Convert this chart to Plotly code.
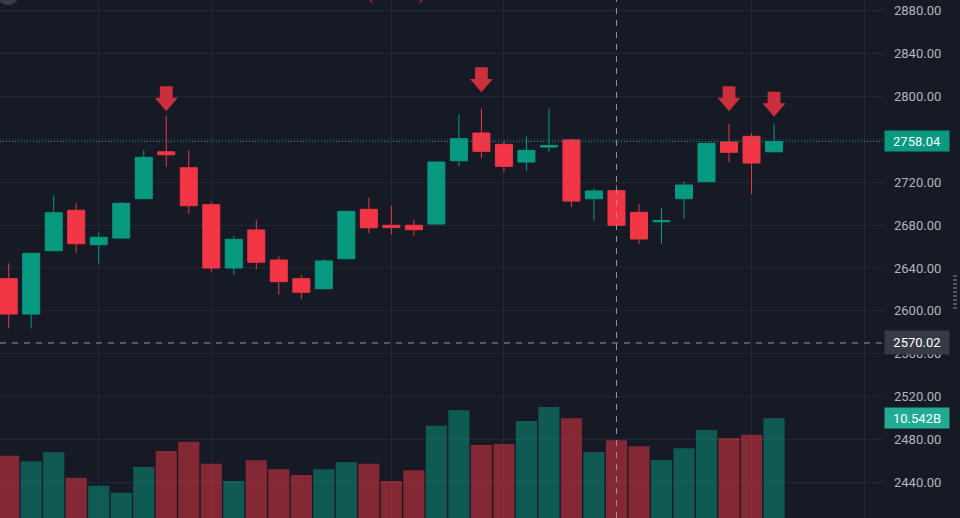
import plotly.graph_objects as go

# ---------------- data ----------------
opens = [2630.0, 2597.0, 2656.1, 2693.8, 2661.7, 2667.9, 2704.6, 2748.4, 2733.5, 2699.0,
         2639.9, 2675.4, 2647.4, 2630.0, 2620.6, 2648.6, 2694.7, 2679.8, 2679.8, 2681.0,
         2740.0, 2765.9, 2755.3, 2738.8, 2752.8, 2759.4, 2704.6, 2712.1, 2691.9, 2683.0,
         2704.6, 2720.5, 2757.5, 2762.8, 2748.4]
highs = [2644.3, 2654.0, 2707.8, 2700.3, 2673.2, 2701.5, 2750.0, 2782.0, 2749.7, 2701.5,
         2670.1, 2685.0, 2650.8, 2633.4, 2648.3, 2693.0, 2705.5, 2697.8, 2685.0, 2739.2,
         2783.3, 2788.6, 2758.1, 2762.8, 2788.6, 2760.6, 2714.3, 2717.4, 2699.4, 2695.9,
         2720.8, 2756.7, 2774.6, 2765.9, 2774.6]
lows = [2583.7, 2583.7, 2655.5, 2654.2, 2644.3, 2667.5, 2704.2, 2734.4, 2690.6, 2636.5,
        2633.4, 2638.7, 2615.0, 2611.0, 2620.2, 2648.2, 2672.3, 2671.0, 2670.1, 2680.6,
        2734.8, 2742.3, 2729.5, 2730.4, 2748.4, 2696.8, 2684.1, 2676.0, 2662.6, 2662.6,
        2685.9, 2720.2, 2738.8, 2709.0, 2747.5]
closes = [2597.0, 2653.6, 2691.5, 2662.6, 2668.6, 2700.3, 2743.2, 2745.6, 2698.1, 2639.9,
          2666.7, 2645.3, 2627.2, 2617.3, 2646.5, 2692.8, 2677.5, 2677.6, 2675.7, 2738.8,
          2760.6, 2748.8, 2734.8, 2749.7, 2754.3, 2702.4, 2711.8, 2679.8, 2667.0, 2684.2,
          2717.4, 2756.3, 2747.9, 2737.9, 2758.04]
volumes_b = [7.76, 7.34, 8.01, 6.12, 5.53, 5.01, 6.92, 8.11, 8.80, 7.16,
             5.88, 7.42, 6.75, 6.32, 6.75, 7.27, 7.16, 5.88, 6.67, 9.99,
             11.14, 8.56, 8.63, 10.34, 11.38, 10.54, 8.04, 8.91, 8.46, 7.44,
             8.31, 9.67, 9.08, 9.32, 10.542]

arrow_idx = [7, 21, 32, 34]
arrow_tip = [2786.3, 2803.9, 2786.3, 2781.1]

price_ticks = list(range(2440, 2881, 40))
time_grid = [4, 9, 17, 22, 33, 38]

last_price = 2758.04
cross_price = 2570.02
cross_idx = 27
vol_label = "10.542B"

# ---------------- styling ----------------
BG = "#161a25"
GRID = "#232733"
UP = "#089981"
DOWN = "#f23645"
ARROW = "#cc2f3c"
TXT = "#b2b5be"
FONT = "Roboto"

x = list(range(len(opens)))
vol_colors = [UP if c >= o else DOWN for o, c in zip(opens, closes)]

fig = go.Figure()

fig.add_trace(go.Bar(
    x=x, y=volumes_b, yaxis="y", width=0.94,
    marker=dict(color=vol_colors, opacity=0.5, line=dict(width=0)),
    hoverinfo="skip", showlegend=False,
))

fig.add_trace(go.Candlestick(
    x=x, open=opens, high=highs, low=lows, close=closes, yaxis="y2",
    increasing=dict(line=dict(color=UP, width=1), fillcolor=UP),
    decreasing=dict(line=dict(color=DOWN, width=1), fillcolor=DOWN),
    whiskerwidth=0, hoverinfo="skip", showlegend=False,
))

shapes = []
# sell arrows (anchored at data positions, drawn in pixels)
for i, p in zip(arrow_idx, arrow_tip):
    shapes.append(dict(
        type="path", xref="x", yref="y2", xsizemode="pixel", ysizemode="pixel",
        xanchor=i, yanchor=p,
        path="M0,0 L-11.5,13.4 L-6.4,13.4 L-6.4,25 L6.4,25 L6.4,13.4 L11.5,13.4 Z",
        fillcolor=ARROW, line=dict(width=0), layer="above",
    ))
# last price dotted line
shapes.append(dict(type="line", xref="paper", x0=0, x1=1, yref="y2",
                   y0=last_price, y1=last_price,
                   line=dict(color=UP, width=1, dash="1px,2px"), layer="above"))
# crosshair
shapes.append(dict(type="line", xref="paper", x0=0, x1=1, yref="y2",
                   y0=cross_price, y1=cross_price,
                   line=dict(color="#9598a1", width=1, dash="6px,6px"), layer="above"))
shapes.append(dict(type="line", xref="x", x0=cross_idx, x1=cross_idx, yref="paper",
                   y0=0, y1=1,
                   line=dict(color="#9598a1", width=1, dash="6px,6px"), layer="above"))
# top-left partial circle
shapes.append(dict(type="circle", xref="paper", yref="paper",
                   x0=-3 / 883, x1=19 / 883, y0=1 - 5 / 518, y1=1 + 17 / 518,
                   fillcolor="#363a45", line=dict(width=0), layer="above"))
# right edge handle
shapes.append(dict(type="line", xref="paper", yref="paper",
                   x0=955 / 883, x1=955 / 883, y0=1 - 275 / 518, y1=1 - 311 / 518,
                   line=dict(color="#50535e", width=4, dash="2px,2px"), layer="above"))

annotations = [
    dict(xref="paper", x=1, xanchor="left", xshift=1, yref="y2", y=last_price,
         yanchor="middle", text=f"{last_price:.2f}", showarrow=False,
         font=dict(family=FONT, size=13, color="#ffffff"), bgcolor=UP,
         width=60, height=16, borderpad=2, align="center"),
    dict(xref="paper", x=1, xanchor="left", xshift=1, yref="y2", y=cross_price,
         yanchor="middle", text=f"{cross_price:.2f}", showarrow=False,
         font=dict(family=FONT, size=13, color="#ffffff"), bgcolor="#363a45",
         width=60, height=19, borderpad=2, align="center"),
    dict(xref="paper", x=1, xanchor="left", xshift=1, yref="y", y=volumes_b[-1],
         yanchor="middle", text=vol_label, showarrow=False,
         font=dict(family=FONT, size=13, color="#ffffff"), bgcolor="#22ab94",
         width=60, height=16, borderpad=2, align="center"),
    dict(xref="paper", x=370 / 883, yref="paper", y=1, yanchor="bottom", yshift=-5,
         text="(", showarrow=False, font=dict(family=FONT, size=13, color=DOWN)),
    dict(xref="paper", x=421 / 883, yref="paper", y=1, yanchor="bottom", yshift=-5,
         text=")", showarrow=False, font=dict(family=FONT, size=13, color=DOWN)),
]

fig.update_layout(
    width=960, height=518,
    margin=dict(l=0, r=77, t=0, b=0),
    paper_bgcolor=BG, plot_bgcolor=BG,
    showlegend=False, hovermode=False,
    boxgap=0.245, boxgroupgap=0,
    xaxis=dict(range=[-0.386, 38.84], rangeslider=dict(visible=False),
               tickmode="array", tickvals=time_grid, showticklabels=False,
               ticks="", showgrid=True, gridcolor=GRID, gridwidth=1,
               zeroline=False, showline=False, fixedrange=True),
    yaxis=dict(range=[3.125, 41.66], showgrid=False, showticklabels=False,
               zeroline=False, showline=False, ticks="", fixedrange=True),
    yaxis2=dict(range=[2406.7, 2890.0], overlaying="y", side="right",
                tickmode="array", tickvals=price_ticks,
                ticktext=[f"{v:.2f}" for v in price_ticks],
                showgrid=True, gridcolor=GRID, gridwidth=1, ticks="",
                ticklabelstandoff=10,
                tickfont=dict(family=FONT, size=13, color=TXT),
                zeroline=False, showline=False, fixedrange=True),
    shapes=shapes, annotations=annotations,
)

fig.write_html("out.html", config=dict(displayModeBar=False))
